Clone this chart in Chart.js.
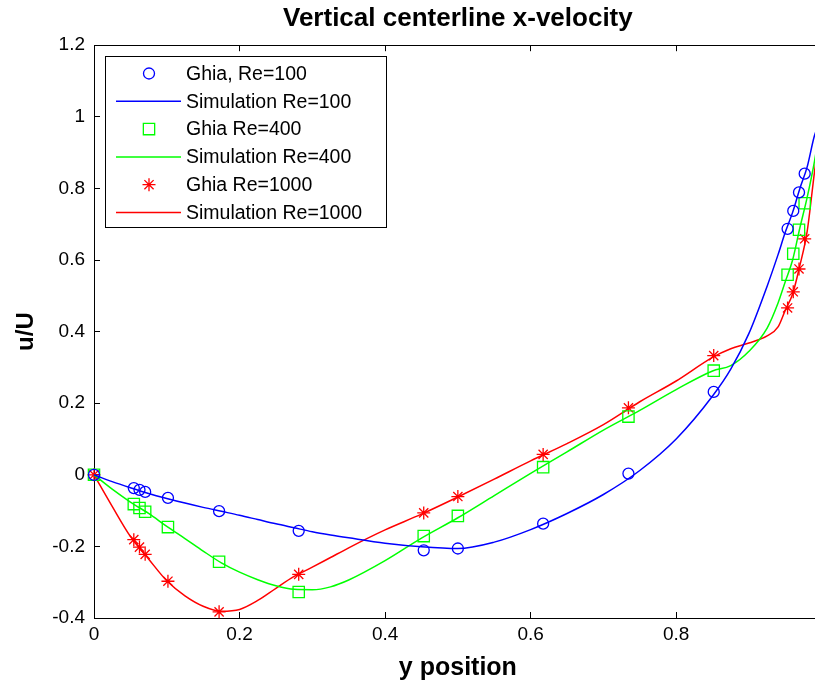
<!DOCTYPE html>
<html>
<head>
<meta charset="utf-8">
<script src="https://cdn.jsdelivr.net/npm/chart.js@4.4.1/dist/chart.umd.min.js"></script>
<style>
html,body{margin:0;padding:0;background:#fff;overflow:hidden;}
#wrap{position:relative;width:815px;height:692px;overflow:hidden;background:#fff;}
#c{display:block;}
</style>
</head>
<body>
<div id="wrap"><canvas id="c" width="838" height="692" style="width:838px;height:692px"></canvas></div>
<script>
// ---- text ----
const titleText = 'Vertical centerline x-velocity';
const xAxisTitle = 'y position';
const yAxisTitle = 'u/U';
const seriesNames = ['Ghia, Re=100', 'Simulation Re=100', 'Ghia Re=400', 'Simulation Re=400', 'Ghia Re=1000', 'Simulation Re=1000'];

// ---- ticks ----
const xTicks = [0, 0.2, 0.4, 0.6, 0.8, 1];
const xTickLabels = ['0', '0.2', '0.4', '0.6', '0.8', '1'];
const yTicks = [-0.4, -0.2, 0, 0.2, 0.4, 0.6, 0.8, 1, 1.2];
const yTickLabels = ['-0.4', '-0.2', '0', '0.2', '0.4', '0.6', '0.8', '1', '1.2'];

// ---- Ghia reference points ----
const ghiaY = [0.9766, 0.9688, 0.9609, 0.9531, 0.8516, 0.7344, 0.6172, 0.5000, 0.4531, 0.2813, 0.1719, 0.1016, 0.0703, 0.0625, 0.0547, 0.0000];
const ghiaRe100 = [0.84123, 0.78871, 0.73722, 0.68717, 0.23151, 0.00332, -0.13641, -0.20581, -0.21090, -0.15662, -0.10150, -0.06434, -0.04775, -0.04192, -0.03717, 0];
const ghiaRe400 = [0.75837, 0.68439, 0.61756, 0.55892, 0.29093, 0.16256, 0.02135, -0.11477, -0.17119, -0.32726, -0.24299, -0.14612, -0.10338, -0.09266, -0.08186, 0];
const ghiaRe1000 = [0.65928, 0.57492, 0.51117, 0.46604, 0.33304, 0.18719, 0.05702, -0.06080, -0.10648, -0.27805, -0.38289, -0.29730, -0.22220, -0.20196, -0.18109, 0];

// ---- Simulation curves ----
const simY = [0, 0.025, 0.05, 0.075, 0.1, 0.125, 0.15, 0.175, 0.2, 0.225, 0.25, 0.275, 0.3, 0.325, 0.35, 0.4, 0.45, 0.5, 0.55, 0.6, 0.65, 0.7, 0.75, 0.8, 0.85, 0.875, 0.9, 0.925, 0.94, 0.95, 0.96, 0.97, 0.98, 0.99, 1.0];
const simRe100 = [0, -0.019, -0.036, -0.052, -0.066, -0.079, -0.091, -0.102, -0.113, -0.125, -0.137, -0.148, -0.159, -0.168, -0.176, -0.191, -0.201, -0.206, -0.188, -0.153, -0.108, -0.055, 0.012, 0.1, 0.22, 0.295, 0.395, 0.527, 0.615, 0.678, 0.733, 0.80, 0.86, 0.947, 1.0];
const simRe400 = [0, -0.04, -0.076, -0.108, -0.144, -0.178, -0.213, -0.246, -0.272, -0.293, -0.31, -0.32, -0.321, -0.313, -0.294, -0.24, -0.177, -0.12, -0.058, 0.004, 0.064, 0.125, 0.18, 0.238, 0.29, 0.305, 0.345, 0.41, 0.48, 0.54, 0.60, 0.69, 0.775, 0.875, 1.0];
const simRe1000 = [0, -0.088, -0.172, -0.235, -0.296, -0.338, -0.367, -0.381, -0.376, -0.351, -0.317, -0.284, -0.258, -0.231, -0.204, -0.154, -0.11, -0.062, -0.012, 0.039, 0.087, 0.14, 0.204, 0.262, 0.328, 0.352, 0.368, 0.388, 0.413, 0.46, 0.505, 0.585, 0.68, 0.845, 1.0];

// ---- build ----
const FONT = "'Liberation Sans', Arial, Helvetica, sans-serif";
const pts = (xs, ys) => xs.map((x, i) => ({x: x, y: ys[i]}));
const BLUE = '#0000ff', GREEN = '#00ff00', RED = '#ff0000';

function markerSet(label, xs, ys, color, style, radius) {
  return {label, data: pts(xs, ys), showLine: false, pointStyle: style, pointRadius: radius,
    pointHoverRadius: radius, pointBorderColor: color, pointBackgroundColor: 'rgba(0,0,0,0)',
    pointBorderWidth: 1.3, borderColor: color, backgroundColor: 'rgba(0,0,0,0)', clip: false};
}
function lineSet(label, xs, ys, color) {
  return {label, data: pts(xs, ys), showLine: true, pointRadius: 0, pointHoverRadius: 0,
    borderColor: color, backgroundColor: color, borderWidth: 1.5,
    cubicInterpolationMode: 'monotone', clip: false};
}

const datasets = [
  markerSet(seriesNames[0], ghiaY, ghiaRe100, BLUE, 'circle', 5.5),
  lineSet(seriesNames[1], simY, simRe100, BLUE),
  markerSet(seriesNames[2], ghiaY, ghiaRe400, GREEN, 'rect', 8),
  lineSet(seriesNames[3], simY, simRe400, GREEN),
  markerSet(seriesNames[4], ghiaY, ghiaRe1000, RED, 'star', 6.5),
  lineSet(seriesNames[5], simY, simRe1000, RED)
];

const boxLegend = {
  id: 'boxLegend',
  afterDatasetsDraw(chart) {
    const ctx = chart.ctx;
    const x0 = 105, y0 = 56, w = 281, h = 171, rowH = 27.8;
    ctx.save();
    ctx.fillStyle = '#fff';
    ctx.fillRect(x0, y0, w, h);
    ctx.strokeStyle = '#000';
    ctx.lineWidth = 1;
    ctx.strokeRect(x0 + 0.5, y0 + 0.5, w, h);
    chart.data.datasets.forEach((d, i) => {
      const cy = y0 + 17.5 + i * rowH;
      if (d.showLine === false) {
        ctx.strokeStyle = d.pointBorderColor;
        ctx.fillStyle = 'rgba(0,0,0,0)';
        ctx.lineWidth = d.pointBorderWidth;
        Chart.helpers.drawPoint(ctx, {pointStyle: d.pointStyle, radius: d.pointRadius, rotation: 0, borderWidth: d.pointBorderWidth}, 149, cy);
      } else {
        ctx.strokeStyle = d.borderColor;
        ctx.lineWidth = d.borderWidth;
        ctx.beginPath();
        ctx.moveTo(116, cy);
        ctx.lineTo(181, cy);
        ctx.stroke();
      }
      ctx.fillStyle = '#000';
      ctx.font = '19.5px ' + FONT;
      ctx.textAlign = 'left';
      ctx.textBaseline = 'middle';
      ctx.fillText(d.label, 186, cy + 1);
    });
    ctx.restore();
  }
};

const tickFont = {family: FONT, size: 19};
const axisTitleFont = {family: FONT, size: 25, weight: 'bold'};

new Chart(document.getElementById('c'), {
  type: 'scatter',
  data: {datasets},
  plugins: [boxLegend],
  options: {
    responsive: false,
    animation: false,
    devicePixelRatio: 1,
    layout: {padding: {left: 0, right: 10, top: 0, bottom: 0}},
    plugins: {
      legend: {display: false},
      tooltip: {enabled: false},
      title: {display: true, text: titleText, fullSize: false, color: '#000',
        font: {family: FONT, size: 26, weight: 'bold'}, padding: {top: 3, bottom: 11}}
    },
    scales: {
      x: {
        type: 'linear', position: 'bottom', min: 0, max: 1,
        afterBuildTicks: s => { s.ticks = xTicks.map(v => ({value: v})); },
        afterFit: s => { s.height = 74; },
        ticks: {callback: v => xTickLabels[xTicks.indexOf(v)], font: tickFont, color: '#000', padding: 11, maxRotation: 0, autoSkip: false},
        grid: {drawOnChartArea: false, tickLength: -6, color: '#000', lineWidth: 1},
        border: {display: true, color: '#000', width: 1},
        title: {display: true, text: xAxisTitle, font: axisTitleFont, color: '#000', padding: {top: 0, bottom: 9}}
      },
      x2: {
        type: 'linear', position: 'top', min: 0, max: 1,
        afterBuildTicks: s => { s.ticks = xTicks.map(v => ({value: v})); },
        afterFit: s => { s.height = 0; },
        ticks: {display: false},
        grid: {drawOnChartArea: false, tickLength: -6, color: '#000', lineWidth: 1},
        border: {display: true, color: '#000', width: 1}
      },
      y: {
        type: 'linear', position: 'left', min: -0.4, max: 1.2,
        afterBuildTicks: s => { s.ticks = yTicks.map(v => ({value: v})); },
        afterFit: s => { s.width = 94; },
        ticks: {callback: v => yTickLabels[yTicks.indexOf(v)], font: tickFont, color: '#000', padding: 15, autoSkip: false},
        grid: {drawOnChartArea: false, tickLength: -6, color: '#000', lineWidth: 1},
        border: {display: true, color: '#000', width: 1},
        title: {display: true, text: yAxisTitle, font: {family: FONT, size: 24, weight: 'bold'}, color: '#000', padding: {top: 12, bottom: 0}}
      },
      y2: {
        type: 'linear', position: 'right', min: -0.4, max: 1.2,
        afterBuildTicks: s => { s.ticks = yTicks.map(v => ({value: v})); },
        afterFit: s => { s.width = 0; },
        ticks: {display: false},
        grid: {drawOnChartArea: false, tickLength: -6, color: '#000', lineWidth: 1},
        border: {display: true, color: '#000', width: 1}
      }
    }
  }
});
</script>
</body>
</html>
